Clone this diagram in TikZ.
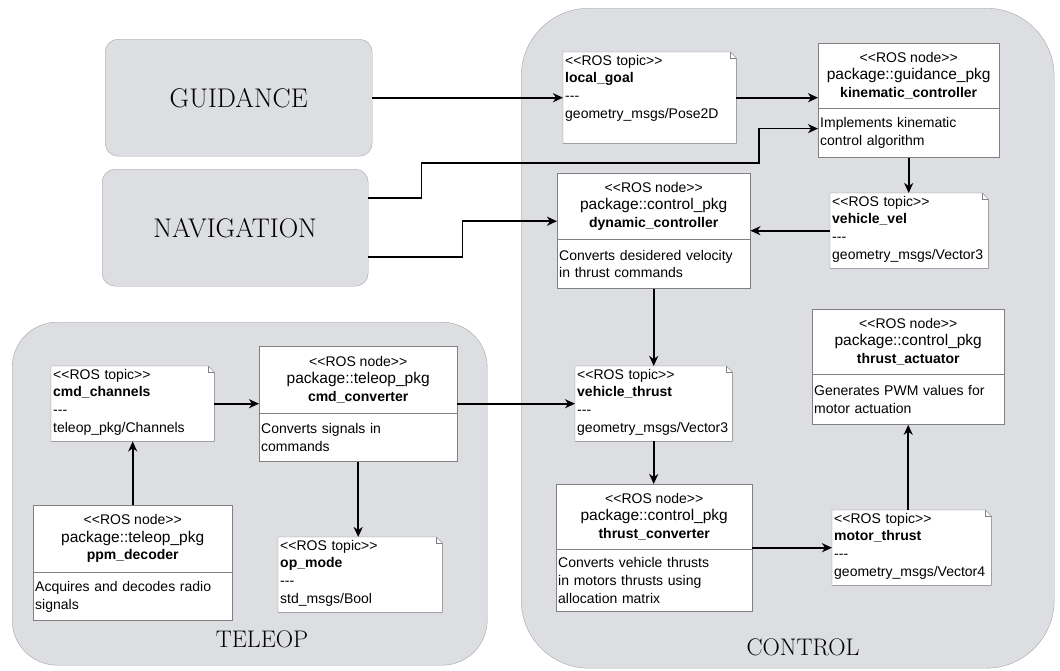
\documentclass[tikz,border=0pt]{standalone}
\usepackage{fontspec}
\newfontfamily\rosfont{Liberation Sans}[Ligatures=TeXOff]
\usetikzlibrary{arrows.meta}

\definecolor{ctrlgray}{RGB}{221,222,226}
\definecolor{edgegray}{RGB}{165,165,165}
\definecolor{boxgray}{RGB}{128,128,128}

\tikzset{
  container/.style={draw=edgegray, fill=ctrlgray, anchor=north west, inner sep=0pt},
  block/.style={draw=edgegray, fill=ctrlgray, rounded corners=13pt, anchor=north west,
    font=\fontsize{27}{30}\selectfont},
  rosnode/.style={draw=boxgray, fill=white, anchor=north west, inner sep=0pt, align=center,
    font=\rosfont\fontsize{14}{17.5}\selectfont},
  rosbody/.style={draw=boxgray, fill=white, anchor=north west, inner sep=2pt, align=left,
    font=\rosfont\fontsize{14}{17.7}\selectfont},
  topic/.style={fill=white, anchor=north west, inner sep=2pt, align=left, text height=11pt,
    text depth=60pt, font=\rosfont\fontsize{14}{17.7}\selectfont},
  arr/.style={-{Stealth[length=10pt,width=9pt,inset=3pt]}, line width=1.6pt},
}

\begin{document}
\begin{tikzpicture}[x=1pt,y=-1pt]
    \useasboundingbox (0,0) rectangle (1060,670);

    % Containers
    \node[container, rounded corners=68pt, minimum width=533pt, minimum height=660pt] (control) at (521,8) {};
    \node[font=\fontsize{24}{28}\selectfont] (controllbl) at (803,647) {CONTROL};
    \node[container, rounded corners=45pt, minimum width=475pt, minimum height=343pt] (teleop) at (12,322) {};
    \node[font=\fontsize{24}{28}\selectfont] (teleoplbl) at (262,639) {TELEOP};

    % Guidance and navigation blocks
    \node[block, minimum width=267pt, minimum height=117pt] (guid) at (105,39) {GUIDANCE};
    \node[block, minimum width=266pt, minimum height=117pt] (nav) at (102,169) {NAVIGATION};

    % ROS nodes
    \node[rosnode, minimum width=181pt, minimum height=65pt] (kinhead) at (818,43)
        {<<ROS node>>\\{\fontsize{15.5}{18}\selectfont package::guidance\_pkg}\\\textbf{kinematic\_controller}};
    \node[rosbody, text width=177pt, minimum height=49pt] (kinbody) at (kinhead.south west)
        {Implements kinematic\\control algorithm};

    \node[rosnode, minimum width=193pt, minimum height=66pt] (dynhead) at (557,173)
        {<<ROS node>>\\{\fontsize{15.5}{18}\selectfont package::control\_pkg}\\\textbf{dynamic\_controller}};
    \node[rosbody, text width=189pt, minimum height=49pt] (dynbody) at (dynhead.south west)
        {Converts desidered velocity\\in thrust commands};

    \node[rosnode, minimum width=192pt, minimum height=65pt] (acthead) at (812,309)
        {<<ROS node>>\\{\fontsize{15.5}{18}\selectfont package::control\_pkg}\\\textbf{thrust\_actuator}};
    \node[rosbody, text width=188pt, minimum height=50pt] (actbody) at (acthead.south west)
        {Generates PWM values for\\motor actuation};

    \node[rosnode, minimum width=196pt, minimum height=65pt] (convhead) at (556,484)
        {<<ROS node>>\\{\fontsize{15.5}{18}\selectfont package::control\_pkg}\\\textbf{thrust\_converter}};
    \node[rosbody, text width=192pt, minimum height=62pt] (convbody) at (convhead.south west)
        {Converts vehicle thrusts\\in motors thrusts using\\allocation matrix};

    \node[rosnode, minimum width=198pt, minimum height=67pt] (cmdhead) at (259,346)
        {<<ROS node>>\\{\fontsize{15.5}{18}\selectfont package::teleop\_pkg}\\\textbf{cmd\_converter}};
    \node[rosbody, text width=194pt, minimum height=48pt] (cmdbody) at (cmdhead.south west)
        {Converts signals in\\commands};

    \node[rosnode, minimum width=199pt, minimum height=67pt] (ppmhead) at (33,505)
        {<<ROS node>>\\{\fontsize{15.5}{18}\selectfont package::teleop\_pkg}\\\textbf{ppm\_decoder}};
    \node[rosbody, text width=195pt, minimum height=48pt] (ppmbody) at (ppmhead.south west)
        {Acquires and decodes radio\\signals};

    % ROS topics
    \node[topic, text width=169pt, text depth=76pt] (lgoal) at (563,52)
        {<<ROS topic>>\\\textbf{local\_goal}\\---\\geometry\_msgs/Pose2D};
    \node[topic, text width=154pt] (vvel) at (830,193)
        {<<ROS topic>>\\\textbf{vehicle\_vel}\\---\\geometry\_msgs/Vector3};
    \node[topic, text width=153pt] (vthrust) at (575,366)
        {<<ROS topic>>\\\textbf{vehicle\_thrust}\\---\\geometry\_msgs/Vector3};
    \node[topic, text width=155pt] (mthrust) at (832,510)
        {<<ROS topic>>\\\textbf{motor\_thrust}\\---\\geometry\_msgs/Vector4};
    \node[topic, text width=159pt] (cmdch) at (51,366)
        {<<ROS topic>>\\\textbf{cmd\_channels}\\---\\teleop\_pkg/Channels};
    \node[topic, text width=160pt] (opmode) at (278,537)
        {<<ROS topic>>\\\textbf{op\_mode}\\---\\std\_msgs/Bool};

    % note outlines with folded corner
    \foreach \n in {lgoal,vvel,vthrust,mthrust,cmdch,opmode} {
        \fill[ctrlgray] ([xshift=-6pt]\n.north east) -- (\n.north east) -- ([yshift=-6pt]\n.north east) -- cycle;
        \draw[boxgray] (\n.north west) -- ([xshift=-6pt]\n.north east) -- ([yshift=-6pt]\n.north east)
            -- (\n.south east) -- (\n.south west) -- cycle;
        \draw[boxgray] ([xshift=-6pt]\n.north east) |- ([yshift=-6pt]\n.north east);
    }

    % Connections
    \draw[arr] (guid.east) -- (lgoal.west |- guid.east);
    \draw[arr] (lgoal.east) -- (lgoal.east -| kinhead.west);
    \draw[arr] ([yshift=29.5pt]nav.east) -- ++(53,0) |- (759,163) |- ([yshift=4.5pt]kinbody.west);
    \draw[arr] ([yshift=-29.5pt]nav.east) -- ++(94,0) |- ([yshift=-15pt]dynhead.west);
    \draw[arr] (kinbody.south) -- (kinbody.south |- vvel.north);
    \draw[arr] (vvel.west) -- (vvel.west -| dynhead.east);
    \draw[arr] (dynbody.south) -- (dynbody.south |- vthrust.north);
    \draw[arr] (cmdhead.east |- vthrust.west) -- (vthrust.west);
    \draw[arr] (cmdch.east) -- (cmdch.east -| cmdhead.west);
    \draw[arr] (ppmhead.north) -- (ppmhead.north |- cmdch.south);
    \draw[arr] (cmdbody.south) -- (cmdbody.south |- opmode.north);
    \draw[arr] (vthrust.south) -- (vthrust.south |- convhead.north);
    \draw[arr] (mthrust.west -| convhead.east) -- (mthrust.west);
    \draw[arr] (mthrust.north -| actbody.south) -- (actbody.south);
\end{tikzpicture}
\end{document}
